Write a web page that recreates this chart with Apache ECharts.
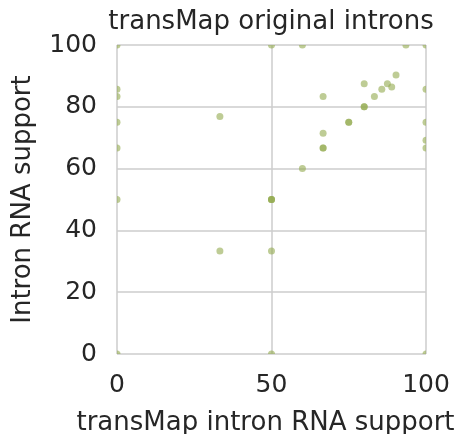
<!DOCTYPE html>
<html><head><meta charset="utf-8">
<script src="https://cdn.jsdelivr.net/npm/echarts@6/dist/echarts.min.js"></script>
<style>html,body{margin:0;padding:0;background:#fff}#c{width:469px;height:434px}</style>
</head><body><div id="c"></div>
<script>
const titleText = "transMap original introns";
const xAxisName = "transMap intron RNA support";
const yAxisName = "Intron RNA support";
const xTicks = [0, 50, 100];
const yTicks = [0, 20, 40, 60, 80, 100];
const xValues = [0, 0, 0, 0, 0, 0, 0, 33.3, 33.3, 50, 50, 50, 50, 50, 50, 60, 60, 66.7, 66.7, 66.7, 66.7, 75, 75, 80, 80, 80, 83.3, 85.7, 87.5, 88.9, 90.3, 93.5, 100, 100, 100, 100, 100, 100];
const yValues = [100, 85.7, 83.3, 75, 66.7, 50, 0, 76.9, 33.3, 100, 50, 50, 50, 33.3, 0, 100, 60, 83.3, 71.4, 66.7, 66.7, 75, 75, 87.5, 80, 80, 83.3, 85.7, 87.5, 86.4, 90.3, 100, 100, 85.7, 75, 69.2, 66.7, 0];
const points = xValues.map((x, i) => [x, yValues[i]]);
const font = "DejaVu Sans";
const chart = echarts.init(document.getElementById('c'));
chart.setOption({
  animation: false,
  backgroundColor: '#fff',
  title: { text: titleText, left: 266, top: 4, textAlign: 'center',
    textStyle: { fontFamily: font, fontSize: 26, fontWeight: 'normal', color: '#262626' } },
  grid: { left: 117, right: 43, top: 45, bottom: 80, outerBoundsMode: 'none', containLabel: false },
  xAxis: {
    type: 'value', min: xTicks[0], max: xTicks[xTicks.length - 1], interval: 50,
    name: xAxisName, nameLocation: 'middle', nameGap: 56,
    nameTextStyle: { fontFamily: font, fontSize: 26, color: '#262626', padding: [0, 12, 0, 0] },
    axisLine: { show: false }, axisTick: { show: false },
    axisLabel: { fontFamily: font, fontSize: 25, color: '#262626', margin: 19 },
    splitLine: { show: true, showMinLine: true, showMaxLine: true, lineStyle: { color: '#cccccc', width: 1.5 } }
  },
  yAxis: {
    type: 'value', min: yTicks[0], max: yTicks[yTicks.length - 1], interval: 20,
    name: yAxisName, nameLocation: 'middle', nameGap: 81, nameRotate: 90,
    nameTextStyle: { fontFamily: font, fontSize: 26, color: '#262626' },
    axisLine: { show: false }, axisTick: { show: false },
    axisLabel: { fontFamily: font, fontSize: 25, color: '#262626', margin: 20 },
    splitLine: { show: true, showMinLine: true, showMaxLine: true, lineStyle: { color: '#cccccc', width: 1.5 } }
  },
  series: [{
    type: 'custom', data: points, clip: true,
    renderItem: function (params, api) {
      const p = api.coord([api.value(0), api.value(1)]);
      return { type: 'circle', shape: { cx: p[0], cy: p[1], r: 3.5 },
        style: { fill: '#93aa4f', opacity: 0.6 } };
    }
  }]
});
</script></body></html>
